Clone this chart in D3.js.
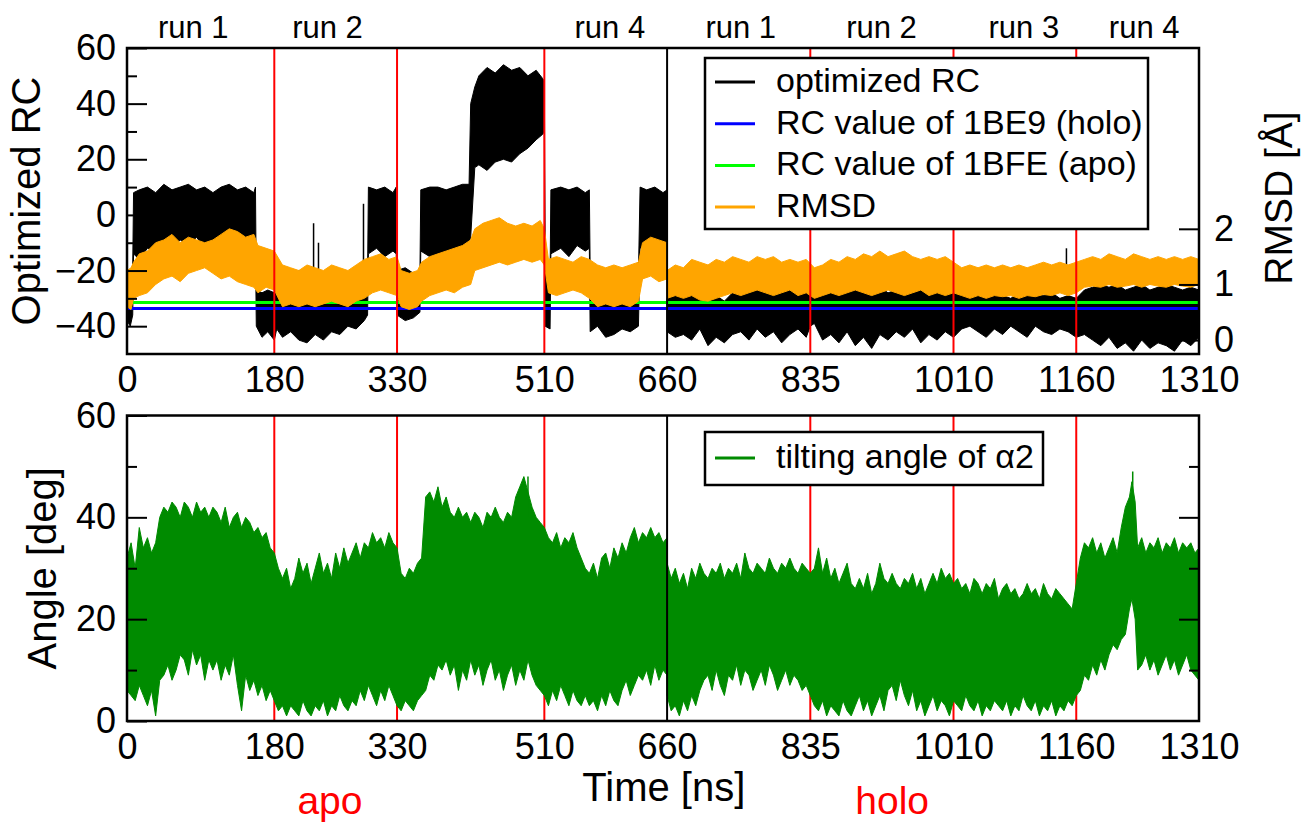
<!DOCTYPE html>
<html lang="en">
<head>
<meta charset="UTF-8">
<title>Optimized RC, RMSD and tilting angle</title>
<script src="https://d3js.org/d3.v7.min.js"></script>
<style>
  body { margin: 0; background: #fff; }
  text { font-family: "Liberation Sans", Arial, Helvetica, sans-serif; }
</style>
</head>
<body>
<div id="chart"></div>
<script>

// ---- data: [time ns, low, high] envelopes ----
const timeTicks = [0, 180, 330, 510, 660, 835, 1010, 1160, 1310];
const runBorders = [180, 330, 510, 835, 1010, 1160];
const trajBorder = 660;
const runLabels = [["run 1", 81], ["run 2", 245], ["run 4", 590],
                   ["run 1", 750], ["run 2", 922], ["run 3", 1096], ["run 4", 1243]];
const stateLabels = [["apo", 248], ["holo", 935]];

const rcHoloValue = -33.6;   // 1BE9
const rcApoValue = -31.5;    // 1BFE

const rcApo = [
  [0,-38,-20],[4,-40,-22],[7,-36,-18],[8,-14,8],[15,-16,9],[25,-12,10],[35,-13,8],[45,-10,11],
  [55,-12,9],[65,-9,10],[75,-11,11],[85,-8,9],[95,-12,10],[105,-10,8],[115,-13,10],[125,-9,11],
  [135,-11,9],[145,-14,10],[155,-10,8],[157,-12,10],[158,-40,-27],[165,-44,-28],[172,-42,-27],
  [180,-45,-28],[183,-41,-22],[190,-44,-21],[200,-42,-23],[210,-45,-20],[220,-46,-22],[230,-43,-21],
  [240,-45,-21],[250,-42,-22],[260,-43,-20],[270,-40,-21],[280,-41,-22],[290,-38,-20],[294,-36,-20],
  [295,-14,10],[305,-12,9],[315,-15,10],[325,-13,8],[329,-14,10],[330,-36,-20],[340,-38,-19],
  [350,-37,-21],[358,-35,-20],[359,-13,9],[370,-15,10],[380,-14,10],[390,-16,9],[400,-12,10],
  [410,-13,11],[418,-10,11],[420,-8,40],[425,17,46],[430,18,50],[440,16,53],[450,19,51],
  [460,20,54],[470,19,52],[480,22,53],[490,24,50],[500,27,52],[508,29,49],[510,30,48],
  [511,-40,-20],[517,-41,-22],[518,-14,9],[530,-12,10],[540,-15,9],[550,-11,10],[560,-13,8],
  [565,-12,9],[566,-42,-20],[575,-40,-19],[585,-44,-21],[595,-43,-20],[605,-41,-22],[615,-42,-20],
  [625,-40,-21],[627,-12,10],[635,-11,9],[645,-13,10],[655,-10,8],[660,-12,9]
];
const rcHolo = [
  [660,-42,-30],[670,-44,-29],[680,-43,-28],[690,-45,-27],[700,-41,-30],[710,-47,-28],[720,-44,-29],
  [730,-46,-31],[740,-43,-28],[750,-42,-27],[760,-45,-26],[770,-41,-27],[780,-44,-26],[790,-42,-28],
  [800,-46,-27],[810,-43,-26],[820,-41,-28],[830,-44,-27],[835,-40,-29],[840,-39,-30],[850,-45,-29],
  [860,-43,-28],[870,-46,-27],[880,-42,-28],[890,-47,-26],[900,-44,-28],[910,-48,-27],[920,-43,-26],
  [930,-45,-28],[940,-42,-27],[950,-44,-26],[960,-41,-28],[970,-46,-27],[980,-43,-28],[990,-45,-27],
  [1000,-42,-26],[1010,-44,-28],[1020,-41,-29],[1030,-40,-28],[1040,-42,-29],[1050,-44,-30],
  [1060,-41,-28],[1070,-43,-29],[1080,-40,-30],[1090,-42,-28],[1100,-44,-29],[1110,-40,-28],
  [1120,-42,-29],[1130,-43,-28],[1140,-41,-30],[1150,-42,-29],[1160,-44,-30],[1170,-43,-27],
  [1180,-45,-26],[1190,-47,-25],[1200,-44,-26],[1210,-48,-25],[1220,-46,-27],[1230,-49,-26],
  [1240,-45,-25],[1250,-48,-27],[1260,-46,-26],[1270,-47,-25],[1280,-49,-26],[1290,-45,-27],
  [1300,-47,-26],[1310,-44,-27]
];
const rcSpikes = [[228,-22,-3],[234,-22,-10],[289,-20,4],[1138,-28,-19],[1148,-28,-12]];

const rmsdApo = [
  [0,0.6,1.25],[5,0.55,1.3],[8,0.75,1.4],[15,0.8,1.55],[25,0.85,1.6],[35,1.0,1.75],[45,1.1,1.8],
  [55,1.15,1.9],[65,1.05,1.75],[75,1.2,1.85],[85,1.25,1.8],[95,1.3,1.75],[105,1.2,1.8],[115,1.1,1.9],
  [125,1.15,2.0],[135,1.05,1.95],[145,1.0,1.85],[155,0.95,1.9],[160,0.85,1.7],[170,0.95,1.65],
  [180,0.9,1.6],[190,0.6,1.35],[200,0.65,1.3],[210,0.6,1.25],[220,0.65,1.35],[230,0.6,1.3],
  [240,0.65,1.25],[250,0.7,1.35],[260,0.65,1.3],[270,0.6,1.25],[280,0.7,1.35],[290,0.75,1.45],
  [300,0.85,1.5],[310,0.9,1.55],[320,0.85,1.45],[330,0.8,1.5],[335,0.6,1.25],[345,0.55,1.2],
  [355,0.6,1.25],[360,0.7,1.4],[370,0.8,1.5],[380,0.85,1.55],[390,0.9,1.6],[400,0.85,1.65],
  [410,0.95,1.7],[420,1.0,1.8],[425,1.25,2.0],[435,1.3,2.1],[445,1.35,2.15],[455,1.4,2.2],
  [465,1.35,2.1],[475,1.4,2.05],[485,1.45,2.1],[495,1.4,2.05],[505,1.45,2.15],[510,1.35,2.0],
  [515,0.85,1.45],[525,0.8,1.5],[535,0.85,1.45],[545,0.9,1.4],[555,0.85,1.5],[565,0.75,1.45],
  [575,0.6,1.35],[585,0.65,1.3],[595,0.6,1.35],[605,0.65,1.3],[615,0.6,1.35],[625,0.7,1.4],
  [630,1.1,1.75],[640,1.15,1.85],[650,1.05,1.8],[660,1.1,1.75]
];
const rmsdHolo = [
  [660,0.75,1.25],[670,0.8,1.35],[680,0.75,1.3],[690,0.8,1.45],[700,0.72,1.4],[710,0.7,1.35],
  [720,0.75,1.45],[730,0.8,1.4],[740,0.85,1.5],[750,0.8,1.45],[760,0.85,1.4],[770,0.9,1.5],
  [780,0.85,1.45],[790,0.8,1.5],[800,0.85,1.4],[810,0.9,1.45],[820,0.8,1.4],[830,0.85,1.45],
  [840,0.75,1.3],[850,0.8,1.35],[860,0.85,1.45],[870,0.8,1.4],[880,0.85,1.5],[890,0.9,1.45],
  [900,0.85,1.55],[910,0.8,1.5],[920,0.85,1.6],[930,0.9,1.5],[940,0.85,1.55],[950,0.8,1.6],
  [960,0.85,1.5],[970,0.9,1.45],[980,0.8,1.5],[990,0.85,1.45],[1000,0.8,1.5],[1010,0.85,1.4],
  [1020,0.8,1.3],[1030,0.75,1.35],[1040,0.8,1.3],[1050,0.75,1.35],[1060,0.8,1.3],[1070,0.78,1.35],
  [1080,0.8,1.3],[1090,0.75,1.35],[1100,0.8,1.3],[1110,0.78,1.35],[1120,0.82,1.4],[1130,0.8,1.35],
  [1140,0.85,1.4],[1150,0.8,1.35],[1160,0.85,1.4],[1170,0.95,1.45],[1180,0.97,1.5],[1190,0.95,1.45],
  [1200,1.0,1.55],[1210,0.95,1.5],[1220,0.97,1.45],[1230,1.0,1.55],[1240,0.95,1.5],[1250,1.0,1.45],
  [1260,0.97,1.5],[1270,0.95,1.45],[1280,1.0,1.5],[1290,0.97,1.45],[1300,0.95,1.5],[1310,1.0,1.45]
];

const angleApo = [
  [0,6,32],[5,5,35],[10,4,30],[15,7,38],[20,5,34],[25,3,36],[30,6,33],[35,1,35],[40,8,40],[45,9,42],
  [50,11,41],[55,8,43],[60,10,42],[65,13,40],[70,12,43],[75,9,42],[80,14,40],[85,11,43],[90,13,41],
  [95,8,42],[100,12,40],[105,10,42],[110,12,41],[115,8,39],[120,11,42],[125,9,38],[130,13,40],
  [135,7,41],[140,2,38],[145,9,40],[150,6,39],[155,8,37],[160,5,38],[165,7,36],[170,4,37],[175,6,34],
  [180,4,33],[185,2,30],[190,3,28],[195,1,30],[200,3,26],[205,2,28],[210,1,32],[215,4,29],[220,2,31],
  [225,1,27],[230,3,30],[235,2,33],[240,4,29],[245,1,31],[250,3,28],[255,2,33],[260,5,30],[265,3,34],
  [270,2,31],[275,4,33],[280,3,35],[285,6,32],[290,4,35],[295,7,34],[300,5,37],[305,3,35],[310,6,36],
  [315,4,34],[320,7,37],[325,5,35],[330,3,34],[335,2,29],[340,4,28],[345,3,30],[350,2,29],[355,4,31],
  [360,5,32],[365,6,44],[370,9,45],[375,8,43],[380,11,46],[385,10,42],[390,12,44],[395,9,41],
  [400,11,40],[405,6,42],[410,10,40],[415,8,41],[420,12,39],[425,9,41],[430,11,40],[435,7,38],
  [440,10,41],[445,12,40],[450,8,42],[455,10,40],[460,6,39],[465,9,41],[470,11,40],[475,7,44],
  [480,10,46],[485,8,48],[490,12,45],[495,9,42],[500,7,40],[505,6,39],[510,5,38],[515,3,36],
  [520,6,35],[525,4,37],[530,7,34],[535,5,36],[540,3,35],[545,6,37],[550,4,34],[555,3,32],[560,5,30],
  [565,3,29],[570,4,31],[575,2,28],[580,5,32],[585,3,33],[590,6,30],[595,4,34],[600,3,32],[605,6,35],
  [610,8,33],[615,5,36],[620,7,38],[625,9,35],[630,8,37],[635,10,36],[640,7,38],[645,11,36],
  [650,8,37],[655,10,35],[660,9,36]
];
const angleHolo = [
  [660,5,31],[665,2,28],[670,3,30],[675,1,27],[680,4,29],[685,2,26],[690,5,30],[695,3,28],[700,6,31],
  [705,8,29],[710,9,28],[715,6,30],[720,10,29],[725,7,31],[730,5,28],[735,9,30],[740,8,29],[745,11,31],
  [750,7,28],[755,10,33],[760,9,30],[765,6,29],[770,8,31],[775,10,30],[780,7,29],[785,11,32],
  [790,9,30],[795,6,29],[800,8,31],[805,10,30],[810,7,32],[815,9,30],[820,8,29],[825,6,31],[830,7,30],
  [835,5,29],[840,3,30],[845,2,34],[850,4,29],[855,1,32],[860,3,28],[865,2,30],[870,1,27],[875,4,29],
  [880,2,31],[885,1,27],[890,3,26],[895,5,28],[900,2,26],[905,4,29],[910,1,25],[915,3,27],[920,5,31],
  [925,2,28],[930,6,27],[935,7,29],[940,4,27],[945,8,26],[950,5,28],[955,3,27],[960,6,29],[965,2,26],
  [970,4,28],[975,1,25],[980,3,27],[985,5,29],[990,2,27],[995,4,30],[1000,3,28],[1005,1,29],
  [1010,4,27],[1015,3,28],[1020,2,26],[1025,5,27],[1030,3,25],[1035,2,28],[1040,4,27],[1045,1,25],
  [1050,3,27],[1055,2,26],[1060,4,28],[1065,3,24],[1070,2,26],[1075,4,27],[1080,1,25],[1085,3,26],
  [1090,2,24],[1095,5,25],[1100,3,27],[1105,2,25],[1110,4,26],[1115,1,24],[1120,3,27],[1125,2,25],
  [1130,4,24],[1135,1,26],[1140,3,25],[1145,2,24],[1150,4,23],[1155,3,22],[1160,5,27],[1165,6,32],
  [1170,9,35],[1175,8,34],[1180,11,36],[1185,9,33],[1190,12,35],[1195,10,32],[1200,13,34],
  [1205,15,36],[1210,14,33],[1215,16,38],[1220,17,42],[1225,22,44],[1228,24,47],[1232,20,43],
  [1235,10,34],[1240,11,36],[1245,13,33],[1250,10,35],[1255,12,34],[1260,9,36],[1265,11,33],
  [1270,13,35],[1275,10,34],[1280,12,36],[1285,9,33],[1290,11,35],[1295,13,34],[1300,10,35],
  [1305,9,33],[1310,8,34]
];
const angleSpikes = [[490,40,48],[1229,40,49]];

const legendTop = [["optimized RC", "#000000"], ["RC value of 1BE9 (holo)", "#0000ff"],
                   ["RC value of 1BFE (apo)", "#00ff00"], ["RMSD", "#ffa500"]];
const legendBottom = [["tilting angle of \u03b12", "#008b00"]];

// ---- layout ----
const W = 1304, H = 826;
const svg = d3.select("#chart").append("svg").attr("width", W).attr("height", H);

const x = d3.scaleLinear().domain([0, 1310]).range([127, 1199]);
const yRC = d3.scaleLinear().domain([-50, 60]).range([354, 48]);
const yRMSD = d3.scaleLinear().domain([-0.25, 5.25]).range([354, 48]);
const yAng = d3.scaleLinear().domain([0, 60]).range([721, 415.5]);
const fmt = d3.format("d");

const band = ys => d3.area().x(d => x(d[0])).y0(d => ys(d[1])).y1(d => ys(d[2]));

const defs = svg.append("defs");
defs.append("clipPath").attr("id", "clipTop").append("rect")
  .attr("x", x(0)).attr("y", yRC(60)).attr("width", x(1310) - x(0)).attr("height", yRC(-50) - yRC(60));
defs.append("clipPath").attr("id", "clipBot").append("rect")
  .attr("x", x(0)).attr("y", yAng(60)).attr("width", x(1310) - x(0)).attr("height", yAng(0) - yAng(60));

// ---- top panel ----
const gTop = svg.append("g").attr("clip-path", "url(#clipTop)");
[rcApo, rcHolo].forEach(s => {
  gTop.append("path").datum(s).attr("d", band(yRC))
    .attr("fill", "#000").attr("stroke", "#000").attr("stroke-width", 1);
});
gTop.selectAll("line.spike").data(rcSpikes).join("line").attr("class", "spike")
  .attr("x1", d => x(d[0])).attr("x2", d => x(d[0]))
  .attr("y1", d => yRC(d[1])).attr("y2", d => yRC(d[2]))
  .attr("stroke", "#000").attr("stroke-width", 1.5);
[[rcHoloValue, "#0000ff"], [rcApoValue, "#00ff00"]].forEach(([v, c]) => {
  gTop.append("line").attr("x1", x(0)).attr("x2", x(1310)).attr("y1", yRC(v)).attr("y2", yRC(v))
    .attr("stroke", c).attr("stroke-width", 3);
});
[rmsdApo, rmsdHolo].forEach(s => {
  gTop.append("path").datum(s).attr("d", band(yRMSD))
    .attr("fill", "#ffa500").attr("stroke", "#ffa500").attr("stroke-width", 1);
});
gTop.selectAll("line.run").data(runBorders).join("line").attr("class", "run")
  .attr("x1", d => x(d)).attr("x2", d => x(d)).attr("y1", yRC(60)).attr("y2", yRC(-50))
  .attr("stroke", "#ff0000").attr("stroke-width", 2);
gTop.append("line").attr("x1", x(trajBorder)).attr("x2", x(trajBorder))
  .attr("y1", yRC(60)).attr("y2", yRC(-50)).attr("stroke", "#000").attr("stroke-width", 2);

// ---- bottom panel ----
const gBot = svg.append("g").attr("clip-path", "url(#clipBot)");
gBot.selectAll("line.run").data(runBorders).join("line").attr("class", "run")
  .attr("x1", d => x(d)).attr("x2", d => x(d)).attr("y1", yAng(60)).attr("y2", yAng(0))
  .attr("stroke", "#ff0000").attr("stroke-width", 2);
[angleApo, angleHolo].forEach(s => {
  gBot.append("path").datum(s).attr("d", band(yAng))
    .attr("fill", "#008b00").attr("stroke", "#008b00").attr("stroke-width", 1);
});
gBot.selectAll("line.spike").data(angleSpikes).join("line").attr("class", "spike")
  .attr("x1", d => x(d[0])).attr("x2", d => x(d[0]))
  .attr("y1", d => yAng(d[1])).attr("y2", d => yAng(d[2]))
  .attr("stroke", "#008b00").attr("stroke-width", 1.5);
gBot.append("line").attr("x1", x(trajBorder)).attr("x2", x(trajBorder))
  .attr("y1", yAng(60)).attr("y2", yAng(0)).attr("stroke", "#000").attr("stroke-width", 2);

// ---- axes ----
function styleAxis(g, size) {
  g.select(".domain").remove();
  g.selectAll("line").attr("stroke", "#000").attr("stroke-width", 2);
  g.selectAll("text").attr("font-size", size).attr("fill", "#000")
    .attr("font-family", "Liberation Sans, Arial, sans-serif");
}
function addAxis(axis, tx, ty, size) {
  svg.append("g").attr("transform", `translate(${tx},${ty})`).call(axis).call(g => styleAxis(g, size));
}

// top: RC left, RMSD right, time below
addAxis(d3.axisLeft(yRC).tickValues([-40, -20, 0, 20, 40, 60]).tickFormat(fmt).tickSize(-20).tickPadding(11), x(0), 0, 36);
addAxis(d3.axisLeft(yRC).tickValues([-30, -10, 10, 30, 50]).tickSize(-10).tickFormat(""), x(0), 0, 36);
addAxis(d3.axisRight(yRMSD).tickValues([0, 1, 2]).tickFormat(fmt).tickSize(-20).tickPadding(15), x(1310), 0, 36);
addAxis(d3.axisBottom(x).tickValues(timeTicks).tickFormat(fmt).tickSize(0).tickPadding(12), 0, yRC(-50), 36);

// bottom: angle left, mirrored ticks right, time below
addAxis(d3.axisLeft(yAng).tickValues([0, 20, 40, 60]).tickFormat(fmt).tickSize(-20).tickPadding(11), x(0), 0, 36);
addAxis(d3.axisLeft(yAng).tickValues([10, 30, 50]).tickSize(-10).tickFormat(""), x(0), 0, 36);
addAxis(d3.axisRight(yAng).tickValues([20, 40]).tickSize(-20).tickFormat(""), x(1310), 0, 36);
addAxis(d3.axisRight(yAng).tickValues([10, 30, 50]).tickSize(-10).tickFormat(""), x(1310), 0, 36);
addAxis(d3.axisBottom(x).tickValues(timeTicks).tickFormat(fmt).tickSize(0).tickPadding(12), 0, yAng(0), 36);

// frames
[[yRC(60), yRC(-50)], [yAng(60), yAng(0)]].forEach(([y0, y1]) => {
  svg.append("rect").attr("x", x(0)).attr("y", y0).attr("width", x(1310) - x(0)).attr("height", y1 - y0)
    .attr("fill", "none").attr("stroke", "#000").attr("stroke-width", 2.5);
});

// ---- titles and labels ----
svg.append("text").attr("transform", `translate(40,${(yRC(60) + yRC(-50)) / 2}) rotate(-90)`)
  .attr("text-anchor", "middle").attr("font-size", 40).text("Optimized RC");
svg.append("text").attr("transform", `translate(1292,198) rotate(-90)`)
  .attr("text-anchor", "middle").attr("font-size", 39).text("RMSD [\u00c5]");
svg.append("text").attr("transform", `translate(56,${(yAng(60) + yAng(0)) / 2}) rotate(-90)`)
  .attr("text-anchor", "middle").attr("font-size", 40).text("Angle [deg]");
svg.append("text").attr("x", x(656)).attr("y", 801).attr("text-anchor", "middle")
  .attr("font-size", 40).text("Time [ns]");

svg.selectAll("text.runlab").data(runLabels).join("text").attr("class", "runlab")
  .attr("x", d => x(d[1])).attr("y", 38).attr("text-anchor", "middle")
  .attr("font-size", 31).text(d => d[0]);
svg.selectAll("text.state").data(stateLabels).join("text").attr("class", "state")
  .attr("x", d => x(d[1])).attr("y", 814).attr("text-anchor", "middle")
  .attr("font-size", 39).attr("fill", "#ff0000").text(d => d[0]);

// ---- legends ----
function legend(entries, bx, by, bw, bh, firstY, step) {
  const g = svg.append("g");
  g.append("rect").attr("x", bx).attr("y", by).attr("width", bw).attr("height", bh)
    .attr("fill", "#fff").attr("stroke", "#000").attr("stroke-width", 2.5);
  entries.forEach(([label, color], i) => {
    const cy = firstY + i * step;
    g.append("line").attr("x1", bx + 10).attr("x2", bx + 50).attr("y1", cy).attr("y2", cy)
      .attr("stroke", color).attr("stroke-width", 3);
    g.append("text").attr("x", bx + 71).attr("y", cy + 10).attr("font-size", 34).text(label);
  });
}
legend(legendTop, 705, 58, 443, 171, 82, 41.7);
legend(legendBottom, 705, 432, 338, 53, 458, 0);

</script>
</body>
</html>
